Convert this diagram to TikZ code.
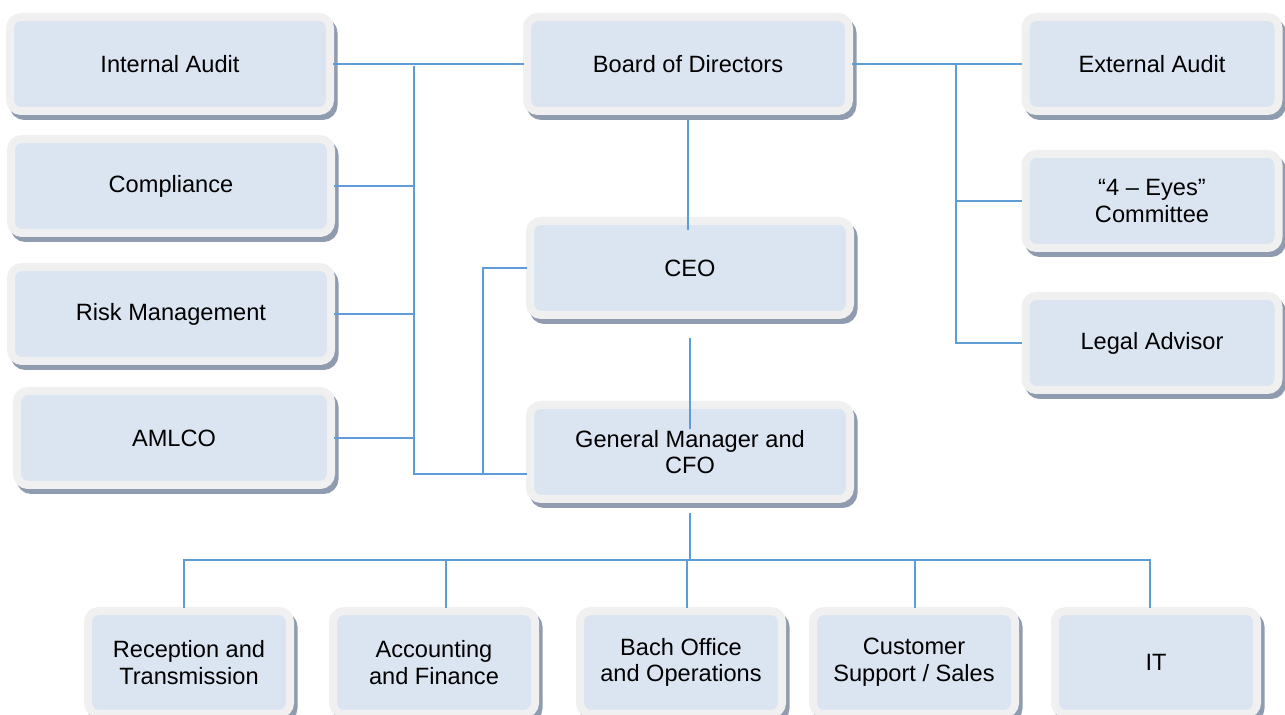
\documentclass[tikz,border=0pt]{standalone}
\usepackage{fontspec}
\setmainfont{Liberation Sans}
\usetikzlibrary{calc}

\definecolor{boxfill}{RGB}{219,229,241}
\definecolor{boxrim}{RGB}{240,240,240}
\definecolor{boxshade}{RGB}{143,155,174}
\definecolor{linkblue}{RGB}{93,156,214}

\begin{document}
\begin{tikzpicture}[x=0.5pt,y=0.5pt,line cap=rect,
	unit/.style={rectangle,rounded corners=5.5pt,draw=boxrim,line width=4pt,fill=boxfill,
		align=center,inner sep=2pt,minimum width=160pt,minimum height=47pt,
		font=\fontsize{11.8}{13.3}\selectfont,
		preaction={draw=boxshade,fill=boxshade,transform canvas={shift={(1.75pt,-2.5pt)}}}},
	side/.style={unit,minimum width=126.5pt},
	dept/.style={unit,minimum width=101pt,minimum height=51.5pt},
	link/.style={draw=linkblue,line width=0.75pt}]

	\useasboundingbox (0,0) rectangle (1285,715);

	% vasen sarake
	\node[unit] (audit) at (170,651) {Internal Audit};
	\node[unit] (compl) at (171,529) {Compliance};
	\node[unit] (risk) at (171,401) {Risk Management};
	\node[unit,minimum width=157pt] (amlco) at (174,277) {AMLCO};

	% keskisarake
	\node[unit,minimum width=161pt] (board) at (688,651) {Board of Directors};
	\node[unit] (ceo) at (690,447) {CEO};
	\node[unit] (gm) at (690,263) {General Manager and\\CFO};

	% oikea sarake
	\node[side] (ext) at (1152,651) {External Audit};
	\node[side] (eyes) at (1152,514) {“4 – Eyes”\\Committee};
	\node[side] (legal) at (1152,372) {Legal Advisor};

	% osastot
	\foreach \n/\x/\t in {recep/189/{Reception and\\Transmission},
		acct/434/{Accounting\\and Finance},
		bach/681/{Bach Office\\and Operations},
		cust/914/{Customer\\Support / Sales},
		it/1156/{IT}}
		\node[dept] (\n) at (\x,52.5) {\t};

	% vasen kisko
	\coordinate (ltop) at (414,648);
	\coordinate (lbot) at (414,241);
	\coordinate (cbus) at (483,241);
	\draw[link] (audit.east) -- (board.west);
	\draw[link] (ltop) -- (lbot) -- (lbot -| gm.west);
	\foreach \n in {compl,risk,amlco}
		\draw[link] (\n.east) -- (\n.east -| lbot);
	\draw[link] (cbus) |- (ceo.west);

	% oikea kisko
	\coordinate (rtop) at (956,651);
	\draw[link] (board.east) -- (ext.west);
	\draw[link] (rtop) |- (legal.west);
	\draw[link] (eyes.west -| rtop) -- (eyes.west);

	% pystylinja
	\draw[link,shorten <=3pt,shorten >=-6pt] (board.south) -- (board.south |- ceo.north);
	\draw[link,shorten <=10pt,shorten >=-13.5pt] (ceo.south) -- (gm.north);
	\coordinate (dbus) at (686,155);
	\draw[link,shorten <=5.5pt] (gm.south) -- (gm.south |- dbus);

	% alakisko
	\foreach \n/\x in {recep/184,acct/446,bach/687,cust/915,it/1150}
	{
		\coordinate (\n-drop) at (\x,155);
		\draw[link] (\n-drop) -- (\n-drop |- \n.north);
	}
	\draw[link] (recep-drop) -- (it-drop);

\end{tikzpicture}
\end{document}
